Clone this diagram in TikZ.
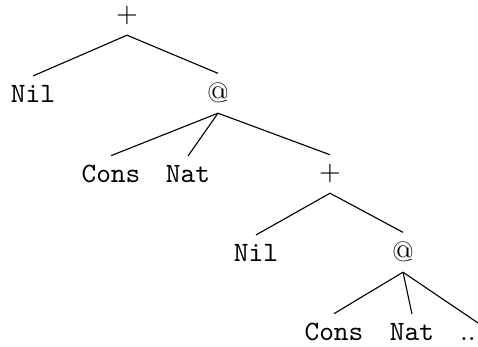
\documentclass[tikz,border=0pt]{standalone}
\usepackage{tikz}
\tikzset{
  term/.style = {anchor = base, font = \ttfamily},
  op/.style   = {anchor = base},
  branch/.style = {thin}
}
\begin{document}
\begin{tikzpicture}[x = 0.357pt, y = -0.357pt]
\useasboundingbox (0,0) rectangle (478,347);
% first level
\node [op] (plus1) at (127,23) {+};
\node [term] (nil1) at (33,103) {Nil};
\node [op] (app1) at (218,103) {@};
% second level
\node [term] (cons1) at (111,183) {Cons};
\node [term] (nat1) at (188,183) {Nat};
\node [op] (plus2) at (330,181) {+};
% third level
\node [term] (nil2) at (256,262) {Nil};
\node [op] (app2) at (403,262) {@};
% fourth level
\node [term] (cons2) at (334,341) {Cons};
\node [term] (nat2) at (412,341) {Nat};
\node [op] (dots) at (468,341) {..};
% branches
\draw [branch] (plus1.south) -- (nil1.north);
\draw [branch] (plus1.south) -- (app1.north);
\draw [branch] (app1.south) -- (cons1.north);
\draw [branch] (app1.south) -- (nat1.north);
\draw [branch] (app1.south) -- (plus2.north);
\draw [branch] (plus2.south) -- (nil2.north);
\draw [branch] (plus2.south) -- (app2.north);
\draw [branch] (app2.south) -- (cons2.north);
\draw [branch] (app2.south) -- (nat2.north);
\draw [branch] (app2.south) -- (dots.north east);
\end{tikzpicture}
\end{document}
